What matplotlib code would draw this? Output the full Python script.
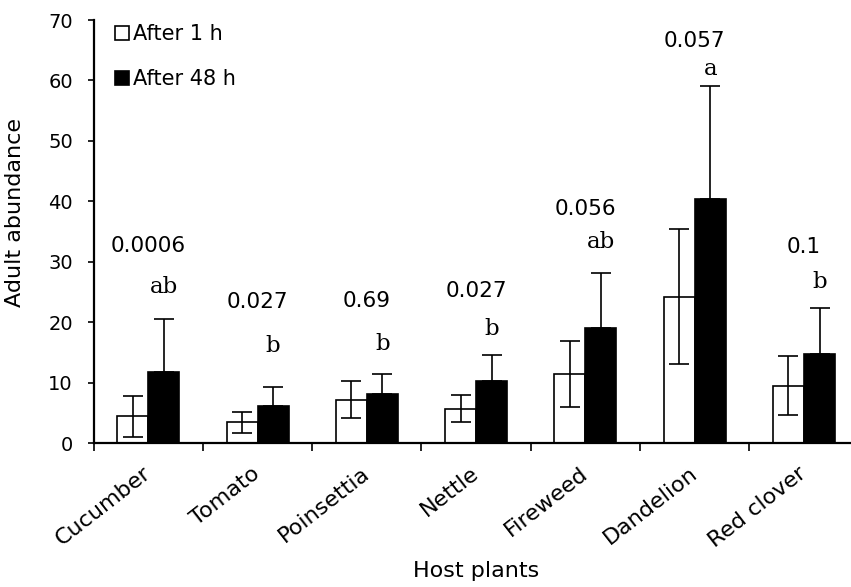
import matplotlib
matplotlib.use("Agg")
from matplotlib import pyplot as plt
import numpy as np

# data
plants = ["Cucumber", "Tomato", "Poinsettia", "Nettle", "Fireweed", "Dandelion", "Red clover"]
after_1h = [4.4, 3.4, 7.2, 5.7, 11.4, 24.2, 9.5]
err_1h = [3.4, 1.7, 3.1, 2.3, 5.5, 11.2, 4.9]
after_48h = [11.7, 6.2, 8.1, 10.3, 19.0, 40.3, 14.7]
err_48h = [8.9, 3.1, 3.3, 4.3, 9.2, 18.8, 7.6]
p_values = ["0.0006", "0.027", "0.69", "0.027", "0.056", "0.057", "0.1"]
p_y = [31.6, 22.4, 22.5, 24.2, 37.7, 65.6, 31.5]
letters = ["ab", "b", "b", "b", "ab", "a", "b"]
letter_y = [24.8, 15.1, 15.4, 17.9, 32.3, 60.9, 25.7]

plt.rcParams['font.family'] = ['DejaVu Sans']

fig = plt.figure(figsize=(8.51, 5.87), dpi=100)
ax = fig.add_axes([0.110, 0.2453, 0.899, 0.7206])

x = np.arange(len(plants))
w = 0.284
ax.bar(x - w / 2, after_1h, w, color="white", edgecolor="black", linewidth=1.2,
       yerr=err_1h, capsize=7, error_kw=dict(elinewidth=1.2, capthick=1.2),
       label="After 1 h", zorder=2)
ax.bar(x + w / 2, after_48h, w, color="black", edgecolor="black", linewidth=1.2,
       yerr=[np.zeros(len(err_48h)), err_48h], capsize=7,
       error_kw=dict(elinewidth=1.2, capthick=1.2),
       label="After 48 h", zorder=2)

# p-values over each pair, letters over the 48 h bar
for i in range(len(plants)):
    ax.text(x[i], p_y[i], p_values[i], ha="center", va="baseline", fontsize=15.5)
    ax.text(x[i] + w / 2, letter_y[i], letters[i], ha="center", va="baseline",
            fontsize=16.5, family="DejaVu Serif")

ax.set_xlim(-0.5, 6.5)
ax.set_ylim(0, 70)
ax.set_yticks(range(0, 71, 10))
ax.tick_params(axis="y", labelsize=14, direction="out", length=4, width=1.2, pad=11)
ax.set_xticks(x)
ax.set_xticklabels(plants, rotation=38, ha="right", va="center",
                   rotation_mode="anchor", fontsize=16)
ax.tick_params(axis="x", which="major", length=0, pad=20)
ax.set_xticks(np.arange(-0.5, 7, 1), minor=True)
ax.tick_params(axis="x", which="minor", direction="out", length=6, width=1.2)

for s in ["top", "right"]:
    ax.spines[s].set_visible(False)
for s in ["left", "bottom"]:
    ax.spines[s].set_linewidth(1.6)

ax.set_ylabel("Adult abundance", fontsize=16)
ax.yaxis.set_label_coords(-0.09, 0.544)
ax.set_xlabel("Host plants", fontsize=16)
ax.xaxis.set_label_coords(0.5, -0.279)

ax.legend(loc="upper left", bbox_to_anchor=(0.028, 0.99), frameon=False, fontsize=15,
          borderpad=0, borderaxespad=0, handlelength=0.65, handleheight=0.65,
          handletextpad=0.2, labelspacing=1.2)

fig.savefig("out.png", dpi=100)
